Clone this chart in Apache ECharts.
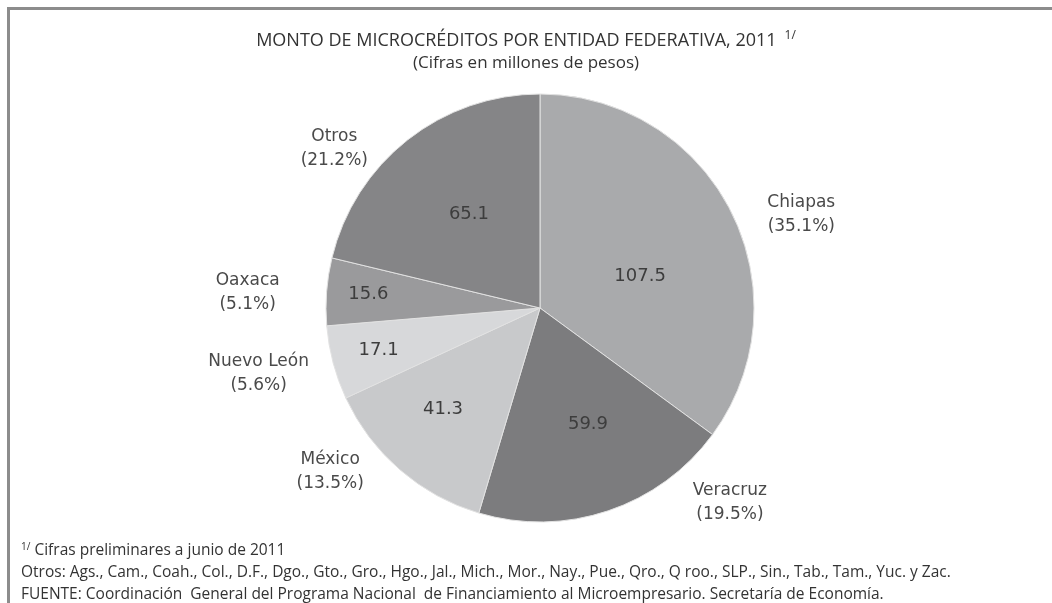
<!DOCTYPE html>
<html>
<head>
<meta charset="utf-8">
<script src="https://cdn.jsdelivr.net/npm/echarts@6/dist/echarts.min.js"></script>
<style>
  html, body { margin: 0; padding: 0; background: #fff; }
  #report { width: 1052px; height: 603px; }
</style>
</head>
<body>
<div id="report"></div>
<script>
// 数据
var estados = ['Chiapas', 'Veracruz', 'México', 'Nuevo León', 'Oaxaca', 'Otros'];
var montos = [107.5, 59.9, 41.3, 17.1, 15.6, 65.1];
var grises = ['#a9aaac', '#7c7c7e', '#c8c9cb', '#d7d8da', '#9a9a9c', '#858587'];

// 标签微调 (dx, dy)
var ajusteValor = [[2, 18], [13, 12], [-25, 18], [-55, 14], [-62, -5], [-3, -7]];
var ajusteNombre = [[-13, 10], [47, -23], [10, -10], [10, 7], [6, 2], [6, 20]];

var pieData = estados.map(function (n, i) {
  return { name: n, value: montos[i], itemStyle: { color: grises[i] } };
});

var myChart = echarts.init(document.getElementById('report'));
var fuente = '"Open Sans", sans-serif';
var fuenteEtiqueta = '"DejaVu Sans", sans-serif';

option = {
  backgroundColor: '#fff',
  animation: false,
  title: [
    {
      text: 'MONTO DE MICROCRÉDITOS POR ENTIDAD FEDERATIVA, 2011{s|1/}',
      left: 'center',
      top: 25,
      textStyle: {
        fontFamily: fuente, fontSize: 18, fontWeight: 'normal', color: '#333',
        rich: { s: { fontFamily: fuente, fontSize: 12, color: '#333', padding: [0, 0, 10, 8] } }
      }
    },
    {
      text: '(Cifras en millones de pesos)',
      left: 'center',
      top: 50,
      textStyle: { fontFamily: fuente, fontSize: 17, fontWeight: 'normal', color: '#333' }
    },
    {
      text: '{s|1/} Cifras preliminares a junio de 2011',
      left: 16, top: 537,
      textStyle: {
        fontFamily: fuente, fontSize: 15.5, fontWeight: 'normal', color: '#333',
        rich: { s: { fontFamily: fuente, fontSize: 10, color: '#333', padding: [0, 0, 8, 0] } }
      }
    },
    {
      text: 'Otros: Ags., Cam., Coah., Col., D.F., Dgo., Gto., Gro., Hgo., Jal., Mich., Mor., Nay., Pue., Qro., Q roo., SLP., Sin., Tab., Tam., Yuc. y Zac.',
      left: 16, top: 560,
      textStyle: { fontFamily: fuente, fontSize: 15.5, fontWeight: 'normal', color: '#333' }
    },
    {
      text: 'FUENTE: Coordinación  General del Programa Nacional  de Financiamiento al Microempresario. Secretaría de Economía.',
      left: 16, top: 582,
      textStyle: { fontFamily: fuente, fontSize: 15.5, fontWeight: 'normal', color: '#333' }
    }
  ],
  graphic: [
    { type: 'rect', shape: { x: 7, y: 7, width: 1045, height: 3 }, style: { fill: '#8c8c8c' } },
    { type: 'rect', shape: { x: 7, y: 7, width: 3, height: 596 }, style: { fill: '#8c8c8c' } }
  ],
  series: [
    {
      // valores dentro
      type: 'pie',
      center: [540, 308],
      radius: 214,
      startAngle: 90,
      clockwise: true,
      percentPrecision: 1,
      itemStyle: { borderColor: '#e2e2e2', borderWidth: 1 },
      label: {
        position: 'inner',
        formatter: '{c}',
        fontFamily: fuenteEtiqueta, fontSize: 18, color: '#3d3d3d'
      },
      labelLayout: function (p) {
        return { dx: ajusteValor[p.dataIndex][0], dy: ajusteValor[p.dataIndex][1] };
      },
      labelLine: { show: false },
      emphasis: { disabled: true },
      data: pieData
    },
    {
      // nombres y porcentajes fuera
      type: 'pie',
      center: [540, 308],
      radius: 214,
      startAngle: 90,
      clockwise: true,
      percentPrecision: 1,
      silent: true,
      itemStyle: { color: 'rgba(0,0,0,0)', borderWidth: 0 },
      label: {
        position: 'outside',
        formatter: function (p) { return '{n|' + p.name + '}\n{n|(' + p.percent.toFixed(1) + '%)}'; },
        rich: { n: { fontFamily: fuenteEtiqueta, fontSize: 17, color: '#4a4a4a', width: 130, align: 'center', lineHeight: 24 } }
      },
      labelLayout: function (p) {
        return { dx: ajusteNombre[p.dataIndex][0], dy: ajusteNombre[p.dataIndex][1] };
      },
      labelLine: { show: false, length: 15, length2: 0 },
      emphasis: { disabled: true },
      data: estados.map(function (n, i) { return { name: n, value: montos[i] }; })
    }
  ]
};

myChart.setOption(option);
</script>
</body>
</html>
